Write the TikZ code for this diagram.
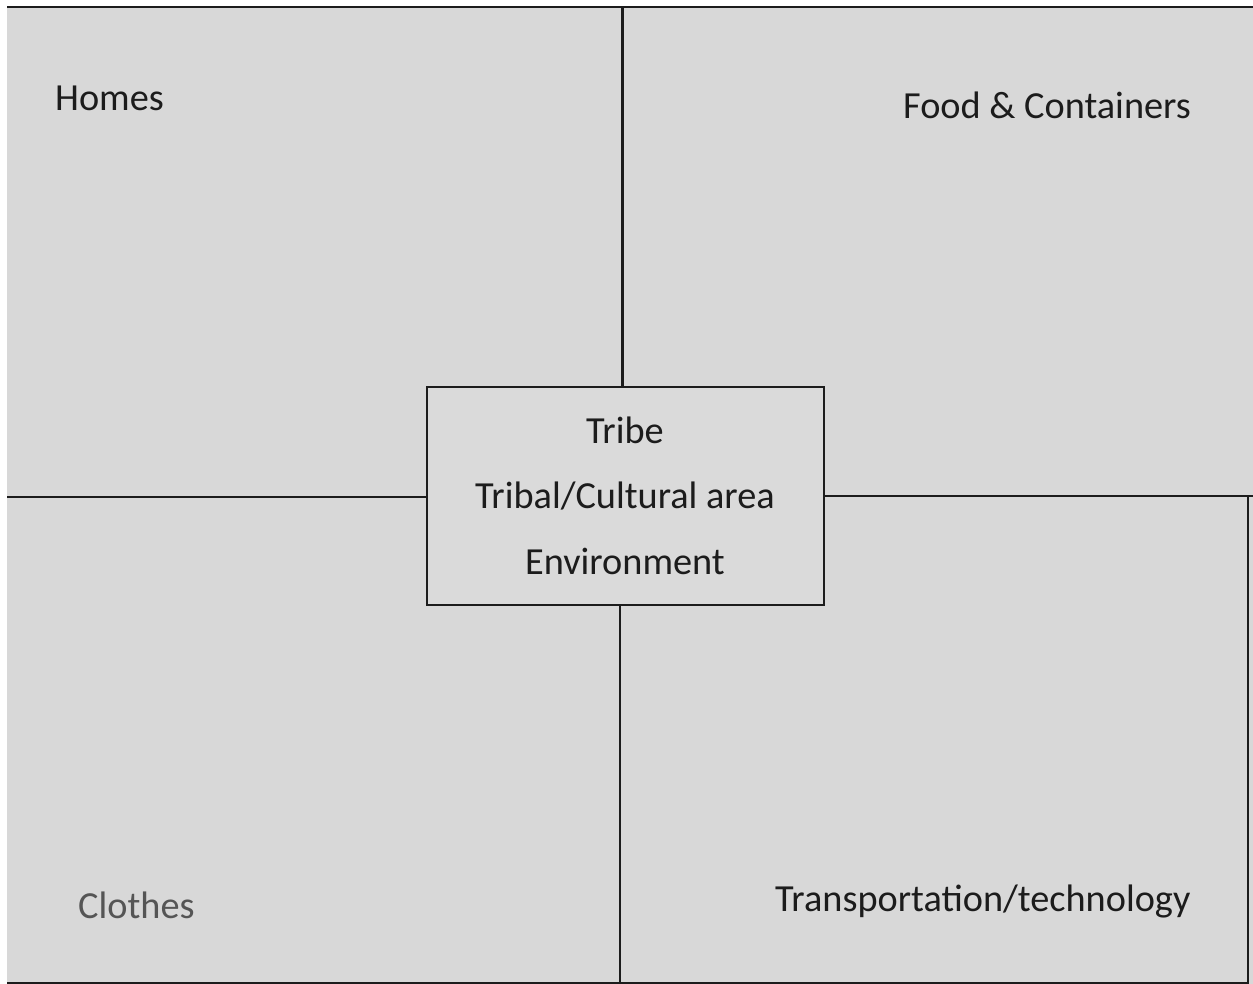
\documentclass[tikz,border=0pt]{standalone}
\usepackage{fontspec}
\setmainfont{Carlito}
\definecolor{paper}{RGB}{216,216,216}
\definecolor{ink}{RGB}{28,28,28}
\definecolor{softink}{RGB}{85,85,85}
\begin{document}
\begin{tikzpicture}[x=1pt,y=-1pt,
  lbl/.style={inner sep=0pt,anchor=base west,text=ink,font=\fontsize{38.3}{44}\selectfont},
  ctr/.style={inner sep=0pt,anchor=base,text=ink,font=\fontsize{38.3}{44}\selectfont},
  frame/.style={draw=ink,line width=2.6pt},
  divider/.style={draw=ink,line width=2.3pt}]
\useasboundingbox (0,0) rectangle (1253,984);
\fill[white] (0,0) rectangle (1253,984);
\fill[paper] (7,7) rectangle (1253,984);
\draw[frame] (7,7) -- (1253,7);
\draw[frame] (7,983) -- (1249,983);
\draw[frame] (1248,496) -- (1248,983);
\node[draw=ink,line width=2.3pt,fill=paper!96!white,minimum width=397pt,minimum height=218pt,inner sep=0pt] (center) at (625.5,496) {};
\coordinate (topend) at (622.5,7);
\coordinate (botend) at (620,983);
\coordinate (leftend) at (7,497);
\coordinate (rightend) at (1253,496);
\draw[divider] (center.north -| topend) -- (topend);
\draw[divider] (center.south -| botend) -- (botend);
\draw[divider] (center.west |- leftend) -- (leftend);
\draw[divider] (center.east |- rightend) -- (rightend);
\node[ctr] (tribe) at (625,443) {Tribe};
\node[ctr] (area) at (625,508) {Tribal/Cultural area};
\node[ctr] (env) at (625,574) {Environment};
\node[lbl] (homes) at (55,111) {Homes};
\node[lbl] (food) at (903,119) {Food \& Containers};
\node[lbl,text=softink] (clothes) at (78,918) {Clothes};
\node[lbl] (transport) at (775,911) {Transportation/technology};
\end{tikzpicture}
\end{document}
